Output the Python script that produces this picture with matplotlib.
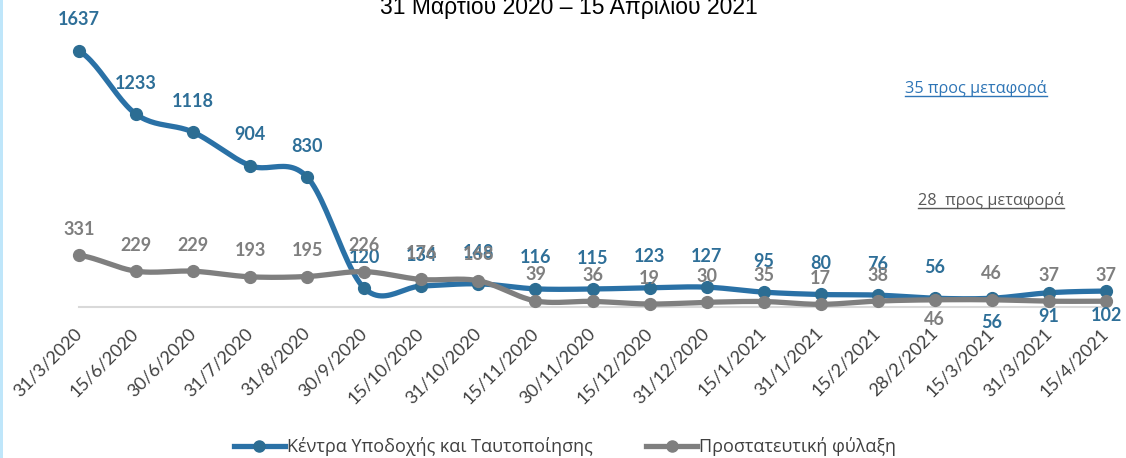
import numpy as np
import matplotlib.pyplot as plt
from matplotlib.lines import Line2D
from matplotlib.patches import Rectangle

# data
dates = ['31/3/2020', '15/6/2020', '30/6/2020', '31/7/2020', '31/8/2020', '30/9/2020',
         '15/10/2020', '31/10/2020', '15/11/2020', '30/11/2020', '15/12/2020', '31/12/2020',
         '15/1/2021', '31/1/2021', '15/2/2021', '28/2/2021', '15/3/2021', '31/3/2021', '15/4/2021']
reception = [1637, 1233, 1118, 904, 830, 120, 134, 148, 116, 115, 123, 127, 95, 80, 76, 56, 56, 91, 102]
custody = [331, 229, 229, 193, 195, 226, 176, 168, 39, 36, 19, 30, 35, 17, 38, 46, 46, 37, 37]

series_names = ['Κέντρα Υποδοχής και Ταυτοποίησης', 'Προστατευτική φύλαξη']
title = '31 Μαρτίου 2020 – 15 Απριλίου 2021'
notes = ['35 προς μεταφορά', '28  προς μεταφορά']

BLUE = '#2A71A6'
BLUE_TXT = '#2E6F98'
GRAY = '#7F7F7F'

# label placement: points below the marker instead of above
blue_below = {16, 17, 18}
gray_below = {15}


def smooth(vals, n=25):
    # Excel-like smoothed line (Catmull-Rom as cubic Bezier)
    v = np.asarray(vals, dtype=float)
    xs, ys = [], []
    m = len(v)
    for i in range(m - 1):
        p0 = v[i - 1] if i > 0 else v[i]
        p1, p2 = v[i], v[i + 1]
        p3 = v[i + 2] if i + 2 < m else v[i + 1]
        c1 = p1 + (p2 - p0) / 6
        c2 = p2 - (p3 - p1) / 6
        t = np.linspace(0, 1, n)
        y = (1 - t) ** 3 * p1 + 3 * (1 - t) ** 2 * t * c1 + 3 * (1 - t) * t ** 2 * c2 + t ** 3 * p2
        xs.append(i + t)
        ys.append(y)
    return np.concatenate(xs), np.concatenate(ys)


fig = plt.figure(figsize=(11.26, 4.58), dpi=100)
W, H = 1126, 458
ax = fig.add_axes([79 / W, (H - 307) / H, (1106 - 79) / W, (307 - 25.5) / H])
ax.set_xlim(0, len(dates) - 1)
ax.set_ylim(0, 1800)

x = np.arange(len(dates))
for vals, col, mcol, z in [(reception, BLUE, '#2C6D93', 3), (custody, GRAY, GRAY, 4)]:
    sx, sy = smooth(vals)
    ax.plot(sx, sy, color=col, lw=3.8, solid_capstyle='round', zorder=z, clip_on=False)
    ax.plot(x, vals, 'o', color=mcol, ms=8.5, zorder=z, clip_on=False)

lab_font = ['Lato', 'DejaVu Sans']
for i, v in enumerate(reception):
    off = -24 if i in blue_below else 31
    ax.annotate(str(v), (i, v), xytext=(0, off), textcoords='offset pixels',
                ha='center', va='center', fontsize=13, fontweight='bold',
                color=BLUE_TXT, family=lab_font, zorder=5, annotation_clip=False)
for i, v in enumerate(custody):
    off = -20 if i in gray_below else 26
    ax.annotate(str(v), (i, v), xytext=(0, off), textcoords='offset pixels',
                ha='center', va='center', fontsize=13, fontweight='bold',
                color=GRAY, family=lab_font, zorder=6, annotation_clip=False)

for s in ['top', 'right', 'left']:
    ax.spines[s].set_visible(False)
ax.spines['bottom'].set_color('#D9D9D9')
ax.spines['bottom'].set_linewidth(1.5)
ax.set_yticks([])
ax.set_xticks(x)
ax.set_xticklabels(dates, rotation=45, ha='right', va='center', rotation_mode='anchor',
                   fontsize=13, color='#404040', family=lab_font)
ax.tick_params(axis='x', length=0, pad=17)

fig.text(0.5 * (380 + 757) / W, 1 - 14 / H, title, ha='center', va='baseline',
         fontsize=16.5, family=['Liberation Sans', 'DejaVu Sans'], color='black')

# notes with underline
note_font = ['Open Sans', 'DejaVu Sans']
n1 = fig.text(905 / W, 1 - 93 / H, notes[0], ha='left', va='baseline', fontsize=11.7,
              color='#2E75B6', family=note_font)
n2 = fig.text(918 / W, 1 - 205 / H, notes[1], ha='left', va='baseline', fontsize=11.7,
              color='#595959', family=note_font)
fig.canvas.draw()
r = fig.canvas.get_renderer()
for t, c, yb in [(n1, '#2E75B6', 93), (n2, '#595959', 205)]:
    bb = t.get_window_extent(r)
    y = 1 - (yb + 3) / H
    fig.add_artist(Line2D([bb.x0 / W, bb.x1 / W], [y, y], color=c, lw=1.0,
                          transform=fig.transFigure))

handles = [Line2D([], [], color=BLUE, lw=3.8, marker='o', ms=8, markerfacecolor='#2C6D93',
                  markeredgecolor='#2C6D93'),
           Line2D([], [], color=GRAY, lw=3.8, marker='o', ms=8)]
fig.legend(handles, series_names, loc='center', bbox_to_anchor=(565 / W, 1 - 447 / H),
           ncol=2, frameon=False, handlelength=2.8, handletextpad=0.1, columnspacing=3.0,
           prop={'family': note_font, 'size': 13}, labelcolor='#404040')

fig.add_artist(Rectangle((0, 0), 2.5 / W, 1, transform=fig.transFigure,
                         color='#BFE6FA', lw=0))

fig.savefig('out.png', dpi=100)
